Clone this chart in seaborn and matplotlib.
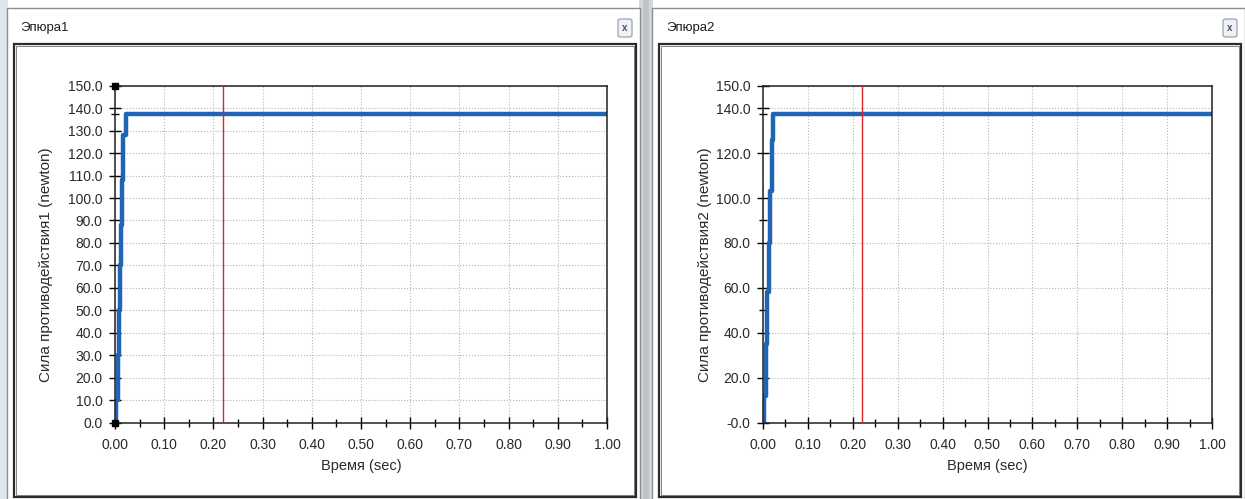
import matplotlib
matplotlib.use("Agg")
import matplotlib.pyplot as plt
from matplotlib.patches import Rectangle, FancyBboxPatch
from matplotlib.ticker import MultipleLocator, FixedLocator, FuncFormatter
import numpy as np
import pandas as pd
import seaborn as sns

# Reaction force step response, two supports
time1 = [0.0, 0.0013, 0.006, 0.008, 0.010, 0.012, 0.014, 0.0167, 0.022, 1.0]
force1 = [0.0, 10.0, 30.0, 50.0, 70.0, 88.0, 108.0, 128.0, 137.5, 137.5]
time2 = [0.0, 0.0015, 0.006, 0.009, 0.0126, 0.016, 0.019, 0.022, 1.0]
force2 = [0.0, 12.0, 35.0, 58.0, 80.0, 103.0, 126.0, 137.5, 137.5]
cursor_time = 0.22

window_titles = ["Эпюра1", "Эпюра2"]
y_labels = ["Сила противодействия1 (newton)", "Сила противодействия2 (newton)"]
x_label = "Время (sec)"
x_ticks = [0.0, 0.1, 0.2, 0.3, 0.4, 0.5, 0.6, 0.7, 0.8, 0.9, 1.0]
y_ticks1 = [0, 10, 20, 30, 40, 50, 60, 70, 80, 90, 100, 110, 120, 130, 140, 150]
y_ticks2 = [0, 20, 40, 60, 80, 100, 120, 140, 150]

sns.set_theme(style="white")
plt.rcParams["font.family"] = ["Liberation Sans", "DejaVu Sans"]

W, H = 1245, 499
fig = plt.figure(figsize=(W / 100, H / 100), dpi=100)
fig.patch.set_facecolor("white")


def px_rect(x0, y0, x1, y1, **kw):
    """Rectangle given in pixel coords with origin at the top-left."""
    r = Rectangle((x0 / W, 1 - y1 / H), (x1 - x0) / W, (y1 - y0) / H,
                  transform=fig.transFigure, zorder=-5, **kw)
    fig.add_artist(r)
    return r


def px_text(x, y, s, **kw):
    fig.text(x / W, 1 - y / H, s, **kw)


# window chrome
px_rect(0, 0, 8, H, facecolor="#dfe6ee", edgecolor="none")
px_rect(639, 0, 653, H, facecolor="#d3d6da", edgecolor="none")
px_rect(643, 0, 649, H, facecolor="#bfc3c7", edgecolor="none")
for (wx0, wx1) in [(7, 640), (652, 1245)]:
    px_rect(wx0, 8, wx1, H + 2, facecolor="white", edgecolor="#8d8d8d", lw=1.0)
    px_rect(wx0 + 7, 44, wx1 - 4, 497, facecolor="white", edgecolor="#2b2b2b", lw=1.6)
    px_rect(wx0 + 9, 46, wx1 - 6, 495, facecolor="none", edgecolor="#6e6e6e", lw=0.6)
    bx = wx1 - 22
    btn = FancyBboxPatch((bx / W, 1 - 37 / H), 14 / W, 18 / H,
                         boxstyle="round,pad=0,rounding_size=0.003",
                         transform=fig.transFigure, facecolor="#eef1f5",
                         edgecolor="#9aa3ad", lw=0.9, zorder=-4)
    fig.add_artist(btn)
    px_text(bx + 7, 28, "x", fontsize=7, color="#4b5560", ha="center", va="center",
            fontweight="bold")

px_text(20, 28, window_titles[0], fontsize=9.5, color="#1e1e1e", va="center")
px_text(666, 28, window_titles[1], fontsize=9.5, color="#1e1e1e", va="center")

blue = "#1f64b5"
panels = [
    dict(left=115, right=607, time=time1, force=force1, yt=y_ticks1,
         ylab=y_labels[0], ylab_x=46, minor=[137.5]),
    dict(left=763, right=1212, time=time2, force=force2, yt=y_ticks2,
         ylab=y_labels[1], ylab_x=705, minor=[50, 90, 137.5]),
]
ax_top, ax_bot = 85.7, 422.7

for i, p in enumerate(panels):
    ax = fig.add_axes([p["left"] / W, 1 - ax_bot / H,
                       (p["right"] - p["left"]) / W, (ax_bot - ax_top) / H])
    ax.set_facecolor("white")
    df = pd.DataFrame({"t": p["time"], "F": p["force"]})
    sns.lineplot(data=df, x="t", y="F", ax=ax, color=blue, lw=3.2,
                 drawstyle="steps-post", sort=False, estimator=None)
    ax.axvline(cursor_time, color="#d9262b", lw=1.0, zorder=3)

    ax.set_xlim(0, 1.0)
    ax.set_ylim(0, 150)
    ax.xaxis.set_major_locator(FixedLocator(x_ticks))
    ax.xaxis.set_minor_locator(MultipleLocator(0.05))
    ax.xaxis.set_major_formatter(FuncFormatter(lambda v, _: f"{v:.2f}"))
    ax.yaxis.set_major_locator(FixedLocator(p["yt"]))
    ax.yaxis.set_minor_locator(FixedLocator(p["minor"]))
    if i == 0:
        ax.yaxis.set_major_formatter(FuncFormatter(lambda v, _: f"{v:.1f}"))
    else:
        ax.yaxis.set_major_formatter(
            FuncFormatter(lambda v, _: "-0.0" if v == 0 else f"{v:.1f}"))

    ax.grid(True, which="major", linestyle=":", color="#b5b5b5", lw=0.8)
    ax.tick_params(which="major", direction="inout", length=8, width=1.0,
                   color="black", labelsize=10, labelcolor="#2a2a2a", pad=5)
    ax.tick_params(axis="x", which="major", pad=7)
    ax.tick_params(which="minor", direction="inout", length=6, width=1.0,
                   color="black")
    ax.tick_params(axis="x", which="both", bottom=True, top=False)
    ax.tick_params(axis="y", which="both", left=True, right=False)
    for s in ax.spines.values():
        s.set_visible(True)
        s.set_color("#222222")
        s.set_linewidth(1.1)

    ax.set_xlabel(x_label, fontsize=10.5, color="#2a2a2a", labelpad=5)
    ax.set_ylabel("")
    px_text(p["ylab_x"], (ax_top + ax_bot) / 2 + 10, p["ylab"], rotation=90,
            fontsize=11, color="#2a2a2a", ha="center", va="center")

    if i == 0:
        ax.plot([0, 0], [0, 150], ls="none", marker="s", ms=5, color="black",
                clip_on=False, zorder=5)

fig.savefig("out.png", dpi=100, facecolor=fig.get_facecolor())
